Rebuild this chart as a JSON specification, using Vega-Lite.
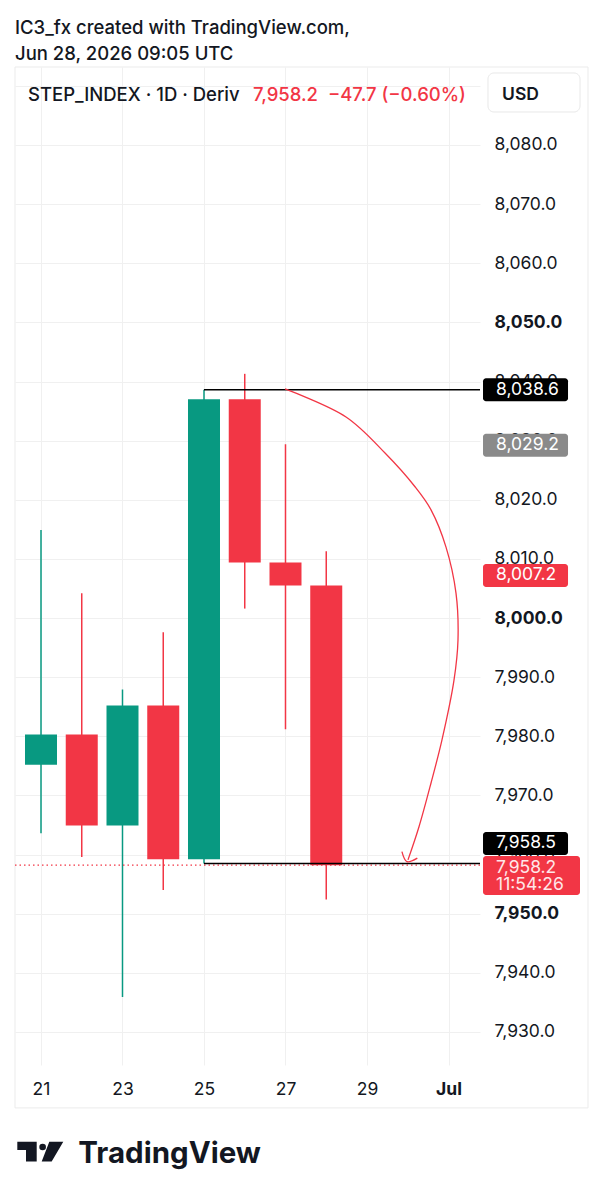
{
  "$schema": "https://vega.github.io/schema/vega-lite/v6.json",
  "width": 465,
  "height": 998,
  "autosize": {"type": "none"},
  "padding": {"left": 15, "top": 67, "right": 123, "bottom": 135},
  "background": "white",
  "config": {
    "view": {"stroke": null},
    "font": "Inter",
    "axis": {"domain": false, "ticks": false, "labelColor": "#131722", "labelFont": "Inter", "gridColor": "#f0f0f0", "gridWidth": 1}
  },
  "title": {
    "text": ["IC3_fx created with TradingView.com,", "Jun 28, 2026 09:05 UTC"],
    "anchor": "start",
    "frame": "group",
    "font": "Inter",
    "fontSize": 18.5,
    "fontWeight": 500,
    "color": "#131722",
    "lineHeight": 26,
    "offset": 3
  },
  "datasets": {
    "candles": [
      {"d": 21, "o": 7975.2, "h": 8014.9, "l": 7963.6, "c": 7980.3, "dir": "up"},
      {"d": 22, "o": 7980.3, "h": 8004.2, "l": 7959.6, "c": 7964.9, "dir": "down"},
      {"d": 23, "o": 7964.9, "h": 7987.9, "l": 7935.9, "c": 7985.2, "dir": "up"},
      {"d": 24, "o": 7985.2, "h": 7997.6, "l": 7954.0, "c": 7959.2, "dir": "down"},
      {"d": 25, "o": 7959.2, "h": 8038.6, "l": 7958.5, "c": 8037.0, "dir": "up"},
      {"d": 26, "o": 8037.0, "h": 8041.3, "l": 8001.6, "c": 8009.4, "dir": "down"},
      {"d": 27, "o": 8009.4, "h": 8029.4, "l": 7981.2, "c": 8005.5, "dir": "down"},
      {"d": 28, "o": 8005.5, "h": 8011.3, "l": 7952.4, "c": 7958.2, "dir": "down"}
    ],
    "levels": [
      {"from": 25, "to": 31.773, "p": 8038.6},
      {"from": 25, "to": 31.773, "p": 7958.5}
    ],
    "arrow": [
      {"i": 1, "g": "curve", "d": 26.988, "p": 8038.74},
      {"i": 2, "g": "curve", "d": 28.485, "p": 8034.0},
      {"i": 3, "g": "curve", "d": 29.442, "p": 8027.9},
      {"i": 4, "g": "curve", "d": 30.178, "p": 8022.2},
      {"i": 5, "g": "curve", "d": 30.571, "p": 8018.3},
      {"i": 6, "g": "curve", "d": 30.939, "p": 8012.0},
      {"i": 7, "g": "curve", "d": 31.184, "p": 8004.2},
      {"i": 8, "g": "curve", "d": 31.233, "p": 7996.3},
      {"i": 9, "g": "curve", "d": 31.135, "p": 7989.5},
      {"i": 10, "g": "curve", "d": 30.84, "p": 7979.4},
      {"i": 11, "g": "curve", "d": 30.571, "p": 7972.1},
      {"i": 12, "g": "curve", "d": 30.276, "p": 7964.7},
      {"i": 13, "g": "curve", "d": 30.006, "p": 7959.1},
      {"i": 1, "g": "head", "d": 29.857, "p": 7960.5},
      {"i": 2, "g": "head", "d": 29.98, "p": 7958.8},
      {"i": 3, "g": "head", "d": 30.235, "p": 7959.4}
    ],
    "tags": [
      {"v": 8038.6, "t": "8,038.6", "k": "mark"},
      {"v": 8029.2, "t": "8,029.2", "k": "prev"},
      {"v": 8007.2, "t": "8,007.2", "k": "open"}
    ]
  },
  "layer": [
    {
      "data": {"values": [{}]},
      "mark": {"type": "rect", "fill": "transparent", "stroke": "#ebebeb", "strokeWidth": 1},
      "encoding": {
        "x": {"datum": 20.362, "type": "quantitative"},
        "x2": {"datum": 34.423},
        "y": {"datum": 8093.19, "type": "quantitative"},
        "y2": {"datum": 7917.15}
      }
    },
    {
      "data": {"name": "candles"},
      "mark": {"type": "rule", "strokeWidth": 1.5},
      "encoding": {
        "x": {
          "field": "d", "type": "quantitative",
          "scale": {"domain": [20.362, 31.773], "nice": false, "zero": false, "padding": 0},
          "axis": {
            "title": null, "values": [21, 23, 25, 27, 29, 31],
            "labelExpr": "datum.value === 31 ? 'Jul' : datum.label",
            "grid": true, "labelFontSize": 17.5, "labelPadding": 15,
            "labelFontWeight": {"condition": {"test": "datum.value === 31", "value": "bold"}, "value": "normal"},
            "labelOverlap": false, "labelFlush": false
          }
        },
        "y": {
          "field": "l", "type": "quantitative",
          "scale": {"domain": [7924.41, 8093.19], "nice": false, "zero": false, "padding": 0},
          "axis": {
            "title": null, "orient": "right",
            "values": [7930, 7940, 7950, 7960, 7970, 7980, 7990, 8000, 8010, 8020, 8030, 8040, 8050, 8060, 8070, 8080, 8090],
            "format": ",.1f", "grid": true, "labelFontSize": 17.5, "labelPadding": 14,
            "labelFontWeight": {"condition": {"test": "datum.value % 50 === 0", "value": "bold"}, "value": "normal"},
            "labelOverlap": false, "labelFlush": false
          }
        },
        "y2": {"field": "h"},
        "color": {"field": "dir", "type": "nominal", "scale": {"domain": ["up", "down"], "range": ["#089981", "#f23645"]}, "legend": null}
      }
    },
    {
      "data": {"name": "candles"},
      "mark": {"type": "bar", "orient": "vertical", "width": 32},
      "encoding": {
        "x": {"field": "d", "type": "quantitative"},
        "y": {"field": "o", "type": "quantitative"},
        "y2": {"field": "c"},
        "color": {"field": "dir", "type": "nominal", "legend": null}
      }
    },
    {
      "data": {"values": [{}]},
      "mark": {"type": "rule", "color": "#f23645", "strokeWidth": 1.2, "strokeDash": [1.5, 3]},
      "encoding": {
        "x": {"datum": 20.362, "type": "quantitative"},
        "x2": {"datum": 31.773},
        "y": {"datum": 7958.2, "type": "quantitative"}
      }
    },
    {
      "data": {"name": "levels"},
      "mark": {"type": "rule", "color": "#000000", "strokeWidth": 1.5},
      "encoding": {
        "x": {"field": "from", "type": "quantitative"},
        "x2": {"field": "to"},
        "y": {"field": "p", "type": "quantitative"}
      }
    },
    {
      "data": {"name": "arrow"},
      "mark": {"type": "line", "color": "#f23645", "strokeWidth": 1.3, "interpolate": "catmull-rom"},
      "encoding": {
        "x": {"field": "d", "type": "quantitative"},
        "y": {"field": "p", "type": "quantitative"},
        "detail": {"field": "g"},
        "order": {"field": "i"}
      }
    },
    {
      "data": {"values": [{}]},
      "mark": {"type": "text", "text": "STEP_INDEX · 1D · Deriv", "align": "left", "baseline": "alphabetic", "fontSize": 18.5, "fontWeight": 500, "color": "#131722", "font": "Inter"},
      "encoding": {
        "x": {"datum": 20.681, "type": "quantitative"},
        "y": {"datum": 8087.36, "type": "quantitative"}
      }
    },
    {
      "data": {"values": [{}]},
      "mark": {"type": "text", "text": "7,958.2\u00a0 −47.7 (−0.60%)", "align": "left", "baseline": "alphabetic", "fontSize": 18.5, "fontWeight": 500, "color": "#f23645", "font": "Inter"},
      "encoding": {
        "x": {"datum": 26.202, "type": "quantitative"},
        "y": {"datum": 8087.36, "type": "quantitative"}
      }
    },
    {
      "data": {"values": [{}]},
      "mark": {"type": "rect", "fill": "white", "stroke": "#e8e8e8", "strokeWidth": 1, "cornerRadius": 6},
      "encoding": {
        "x": {"datum": 31.969, "type": "quantitative"},
        "x2": {"datum": 34.227},
        "y": {"datum": 8092.18, "type": "quantitative"},
        "y2": {"datum": 8085.58}
      }
    },
    {
      "data": {"values": [{}]},
      "mark": {"type": "text", "text": "USD", "align": "left", "baseline": "alphabetic", "fontSize": 17.5, "fontWeight": 600, "color": "#131722", "font": "Inter"},
      "encoding": {
        "x": {"datum": 32.313, "type": "quantitative"},
        "y": {"datum": 8087.61, "type": "quantitative"}
      }
    },
    {
      "data": {"name": "tags"},
      "mark": {"type": "bar", "orient": "horizontal", "height": 23, "cornerRadius": 3},
      "encoding": {
        "x": {"datum": 31.847, "type": "quantitative"},
        "x2": {"datum": 33.933},
        "y": {"field": "v", "type": "quantitative"},
        "fill": {"field": "k", "type": "nominal", "scale": {"domain": ["mark", "prev", "open"], "range": ["#000000", "#8a8a8a", "#f23645"]}, "legend": null}
      }
    },
    {
      "data": {"name": "tags"},
      "mark": {"type": "text", "align": "left", "baseline": "middle", "fontSize": 17.5, "color": "white", "font": "Inter"},
      "encoding": {
        "x": {"datum": 32.166, "type": "quantitative"},
        "y": {"field": "v", "type": "quantitative"},
        "text": {"field": "t"}
      }
    },
    {
      "data": {"values": [{"v": 7958.5, "t": "7,958.5"}]},
      "mark": {"type": "bar", "orient": "horizontal", "height": 23, "cornerRadius": 3, "color": "#000000", "yOffset": -20},
      "encoding": {
        "x": {"datum": 31.847, "type": "quantitative"},
        "x2": {"datum": 33.933},
        "y": {"field": "v", "type": "quantitative"}
      }
    },
    {
      "data": {"values": [{"v": 7958.5, "t": "7,958.5"}]},
      "mark": {"type": "text", "align": "left", "baseline": "middle", "fontSize": 17.5, "color": "white", "font": "Inter", "yOffset": -20},
      "encoding": {
        "x": {"datum": 32.166, "type": "quantitative"},
        "y": {"field": "v", "type": "quantitative"},
        "text": {"field": "t"}
      }
    },
    {
      "data": {"values": [{"v": 7958.2}]},
      "mark": {"type": "bar", "orient": "horizontal", "height": 39, "cornerRadius": 3, "color": "#f23645", "yOffset": 10.3},
      "encoding": {
        "x": {"datum": 31.847, "type": "quantitative"},
        "x2": {"datum": 34.227},
        "y": {"field": "v", "type": "quantitative"}
      }
    },
    {
      "data": {"values": [{"v": 7958.2, "t": "7,958.2"}]},
      "mark": {"type": "text", "align": "left", "baseline": "middle", "fontSize": 17.5, "color": "#ffe6e8", "font": "Inter", "yOffset": 2.8},
      "encoding": {
        "x": {"datum": 32.166, "type": "quantitative"},
        "y": {"field": "v", "type": "quantitative"},
        "text": {"field": "t"}
      }
    },
    {
      "data": {"values": [{"v": 7958.2, "t": "11:54:26"}]},
      "mark": {"type": "text", "align": "left", "baseline": "middle", "fontSize": 17.5, "color": "#ffe6e8", "font": "Inter", "yOffset": 19.8},
      "encoding": {
        "x": {"datum": 32.166, "type": "quantitative"},
        "y": {"field": "v", "type": "quantitative"},
        "text": {"field": "t"}
      }
    },
    {
      "data": {"values": [{}]},
      "mark": {"type": "point", "shape": "M-0.987,-0.451 L-0.179,-0.451 L-0.179,0.382 L-0.625,0.382 L-0.625,-0.104 L-0.987,-0.104 Z M0.346,-0.451 L0.929,-0.451 L0.445,0.382 L0.029,0.382 Z", "filled": true, "fill": "#131722", "strokeWidth": 0, "size": 2304, "opacity": 1},
      "encoding": {
        "x": {"datum": 21.0, "type": "quantitative"},
        "y": {"datum": 7909.62, "type": "quantitative"}
      }
    },
    {
      "data": {"values": [{}]},
      "mark": {"type": "point", "shape": "circle", "filled": true, "fill": "#131722", "strokeWidth": 0, "size": 44, "opacity": 1},
      "encoding": {
        "x": {"datum": 21.04, "type": "quantitative"},
        "y": {"datum": 7910.55, "type": "quantitative"}
      }
    },
    {
      "data": {"values": [{}]},
      "mark": {"type": "text", "text": "TradingView", "align": "left", "baseline": "alphabetic", "fontSize": 29.5, "fontWeight": 700, "color": "#131722", "font": "Inter"},
      "encoding": {
        "x": {"datum": 21.915, "type": "quantitative"},
        "y": {"datum": 7907.8, "type": "quantitative"}
      }
    }
  ]
}
